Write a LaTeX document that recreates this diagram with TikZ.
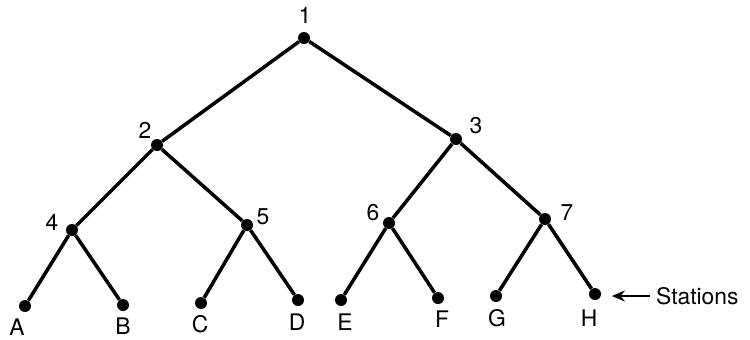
\documentclass[tikz,border=0pt]{standalone}
\usepackage{fontspec}
\setmainfont{TeX Gyre Heros}
\usetikzlibrary{arrows.meta}

\begin{document}
\begin{tikzpicture}[
  x=0.02cm, y=-0.02cm,
  every node/.style={font=\fontsize{13}{15}\selectfont, inner sep=1pt},
  dot/.style={circle, fill, inner sep=0pt, minimum size=2.4mm},
  link/.style={draw, line width=2pt}
]
\useasboundingbox (0,0) rectangle (750,339);
% switches
\node[dot] (n1) at (304,38) {};
\node[dot] (n2) at (157,145) {};
\node[dot] (n3) at (456,139) {};
\node[dot] (n4) at (72,230) {};
\node[dot] (n5) at (247,225) {};
\node[dot] (n6) at (389,223) {};
\node[dot] (n7) at (545,219) {};
% stations
\node[dot] (A) at (25,306) {};
\node[dot] (B) at (123,305) {};
\node[dot] (C) at (201,303) {};
\node[dot] (D) at (298,300) {};
\node[dot] (E) at (341,300) {};
\node[dot] (F) at (438,298) {};
\node[dot] (G) at (496,296) {};
\node[dot] (H) at (595,294) {};
% labels
\node (t1) at (305,15) {1};
\node (t2) at (145,130) {2};
\node (t3) at (476,126) {3};
\node (t4) at (52,222) {4};
\node (t5) at (263,217) {5};
\node (t6) at (373,213) {6};
\node (t7) at (567,213) {7};
\node (tA) at (17,327) {A};
\node (tB) at (123,326) {B};
\node (tC) at (200,324) {C};
\node (tD) at (297,322) {D};
\node (tE) at (345,322) {E};
\node (tF) at (442,319) {F};
\node (tG) at (497,318) {G};
\node (tH) at (589,318) {H};
\node[anchor=west] (st) at (654,296) {Stations};
% tree links
\draw[link] (n1) -- (n2);
\draw[link] (n1) -- (n3);
\draw[link] (n2) -- (n4);
\draw[link] (n2) -- (n5);
\draw[link] (n3) -- (n6);
\draw[link] (n3) -- (n7);
\draw[link] (n4) -- (A);
\draw[link] (n4) -- (B);
\draw[link] (n5) -- (C);
\draw[link] (n5) -- (D);
\draw[link] (n6) -- (E);
\draw[link] (n6) -- (F);
\draw[link] (n7) -- (G);
\draw[link] (n7) -- (H);
\draw[-{Stealth[length=2.6mm,width=2.2mm]}, line width=1.4pt, shorten <=2pt, shorten >=6pt]
  (st.west) -- (st.west -| H.east);
\end{tikzpicture}
\end{document}
